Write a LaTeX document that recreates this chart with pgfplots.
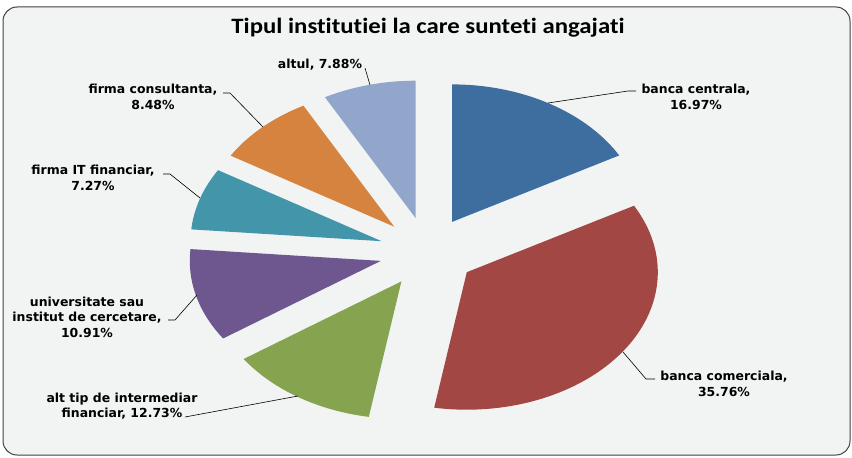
\documentclass[border=0pt]{standalone}
\usepackage{pgfplots}
\pgfplotsset{compat=1.18}
\usepackage{graphicx}
\usepackage{fontspec}
\setmainfont{Carlito}[Ligatures={NoCommon}]
\newfontfamily\labfont{DejaVu Sans}
\definecolor{bgc}{RGB}{242,244,244}
\definecolor{cblue}{RGB}{61,110,159}
\definecolor{cred}{RGB}{162,71,68}
\definecolor{cgreen}{RGB}{134,163,79}
\definecolor{cpurple}{RGB}{110,86,142}
\definecolor{cteal}{RGB}{67,150,170}
\definecolor{corange}{RGB}{215,131,64}
\definecolor{clight}{RGB}{146,166,203}
\begin{document}
\begin{tikzpicture}
\begin{axis}[
  width=852bp, height=458bp, scale only axis,
  xmin=0, xmax=852, ymin=0, ymax=458, y dir=reverse,
  hide axis, clip=false]
\draw[rounded corners=14bp, fill=bgc, draw=black!75, line width=1bp] (3,7) rectangle (850,455);
% shares (%): banca centrala 16.97, banca comerciala 35.76, alt tip 12.73,
% universitate 10.91, firma IT 7.27, firma consultanta 8.48, altul 7.88
\addplot[fill=cblue, draw=none, domain=28.908:90, samples=60, variable=\t]
  ({452.0+191*cos(\t)}, {221.9-137.5*sin(\t)}) -- (452.0,221.9) -- cycle;
\addplot[fill=cred, draw=none, domain=-99.828:28.908, samples=100, variable=\t]
  ({466.8+191*cos(\t)}, {272.2-137.5*sin(\t)}) -- (466.8,272.2) -- cycle;
\addplot[fill=cgreen, draw=none, domain=-145.656:-99.828, samples=50, variable=\t]
  ({401.4+191*cos(\t)}, {281.4-137.5*sin(\t)}) -- (401.4,281.4) -- cycle;
\addplot[fill=cpurple, draw=none, domain=-184.932:-145.656, samples=50, variable=\t]
  ({380.8+191*cos(\t)}, {260.9-137.5*sin(\t)}) -- (380.8,260.9) -- cycle;
\addplot[fill=cteal, draw=none, domain=-211.104:-184.932, samples=40, variable=\t]
  ({381.6+191*cos(\t)}, {241.2-137.5*sin(\t)}) -- (381.6,241.2) -- cycle;
\addplot[fill=corange, draw=none, domain=-241.632:-211.104, samples=40, variable=\t]
  ({394.2+191*cos(\t)}, {226.7-137.5*sin(\t)}) -- (394.2,226.7) -- cycle;
\addplot[fill=clight, draw=none, domain=-270:-241.632, samples=40, variable=\t]
  ({415.7+191*cos(\t)}, {218.2-137.5*sin(\t)}) -- (415.7,218.2) -- cycle;
% title
\node[font=\bfseries\fontsize{22}{25}\selectfont, anchor=base] at (428,34) {\scalebox{1.13}[1]{Tipul institutiei la care sunteti angajati}};
% leader lines
\draw[black, line width=0.6bp] (548,103) -- (628,91) -- (636,91);
\draw[black, line width=0.6bp] (623,352) -- (646,379) -- (655,379);
\draw[black, line width=0.6bp] (298,396) -- (185,417);
\draw[black, line width=0.6bp] (197,295) -- (175,320) -- (168,320);
\draw[black, line width=0.6bp] (200,198) -- (170,174) -- (163,174);
\draw[black, line width=0.6bp] (263,127) -- (230,93) -- (223,93);
\draw[black, line width=0.6bp] (370,85) -- (365,68);
% labels
\tikzset{lab/.style={align=center, font=\labfont\bfseries\fontsize{12.5}{15.5}\selectfont, inner sep=0pt}}
\node[lab] at (696,97) {banca centrala,\\16.97\%};
\node[lab] at (724,384) {banca comerciala,\\35.76\%};
\node[lab] at (122,406) {alt tip de intermediar\\financiar, 12.73\%};
\node[lab] at (87,317) {universitate sau\\institut de cercetare,\\10.91\%};
\node[lab] at (93,178) {firma IT financiar,\\7.27\%};
\node[lab] at (153,97) {firma consultanta,\\8.48\%};
\node[lab] at (320,65) {altul, 7.88\%};
\end{axis}
\pgfresetboundingbox
\useasboundingbox (current axis.south west) rectangle (current axis.north east);
\end{tikzpicture}
\end{document}
